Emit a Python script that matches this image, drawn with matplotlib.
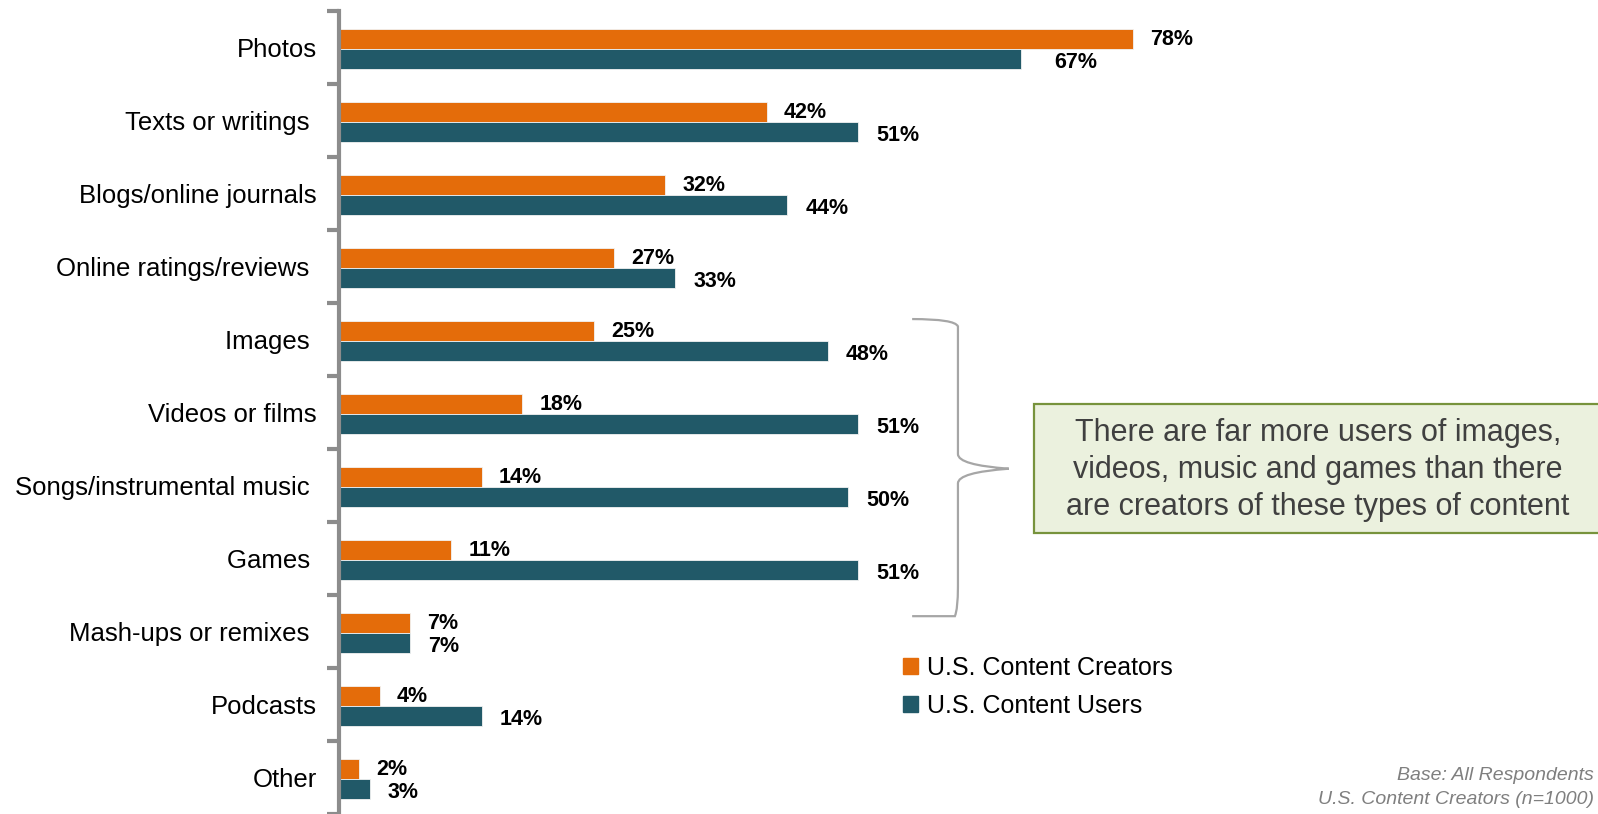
import matplotlib
matplotlib.use("Agg")
import matplotlib.pyplot as plt
from matplotlib.patches import Patch, FancyBboxPatch
from matplotlib.path import Path
from matplotlib.patches import PathPatch

categories = ["Photos", "Texts or writings ", "Blogs/online journals", "Online ratings/reviews ",
              "Images ", "Videos or films", "Songs/instrumental music ", "Games ",
              "Mash-ups or remixes ", "Podcasts", "Other"]
creators = [78, 42, 32, 27, 25, 18, 14, 11, 7, 4, 2]
users = [67, 51, 44, 33, 48, 51, 50, 51, 7, 14, 3]
series_names = ["U.S. Content Creators", "U.S. Content Users"]
callout = "There are far more users of images,\nvideos, music and games than there\nare creators of these types of content"
footnote1 = "Base: All Respondents"
footnote2 = "U.S. Content Creators (n=1000)"

ORANGE = "#E46C0A"
TEAL = "#215968"
W, H = 1598, 814

fig = plt.figure(figsize=(W / 100, H / 100), dpi=100)
ax = fig.add_axes([339 / W, 0, 1018 / W, 803 / H])

n = len(categories)
ypos = list(range(n))
bh = 0.28
ax.barh([y - bh / 2 + 0.02 for y in ypos], creators, height=bh, color=ORANGE,
        edgecolor="#f2f2f2", linewidth=0.6)
ax.barh([y + bh / 2 + 0.02 for y in ypos], users, height=bh, color=TEAL,
        edgecolor="#f2f2f2", linewidth=0.6)

ax.set_xlim(0, 100)
ax.set_ylim(n - 0.5, -0.5)

lab_font = dict(family=["Liberation Sans", "DejaVu Sans"], fontweight="bold",
                fontsize=15.5, color="black", va="center", ha="left")
for y, c, u in zip(ypos, creators, users):
    ax.text(c + 1.7, y - bh / 2 + 0.03, f"{c}%", **lab_font)
    extra = 1.5 if u == 67 else 0
    ax.text(u + 1.8 + extra, y + bh / 2 + 0.06, f"{u}%", **lab_font)

# axes styling
for s in ["top", "right", "bottom"]:
    ax.spines[s].set_visible(False)
ax.spines["left"].set_color("#8c8c8c")
ax.spines["left"].set_linewidth(3)
ax.set_xticks([])
ax.set_yticks([y - 0.5 for y in range(n + 1)])
ax.set_yticklabels([])
ax.set_yticks(ypos, minor=True)
ax.set_yticklabels(categories, minor=True, fontsize=18.5, family="Liberation Sans")
ax.tick_params(axis="y", which="major", length=9, width=3, color="#8c8c8c", direction="out")
ax.tick_params(axis="y", which="minor", length=0, pad=16)

# legend
handles = [Patch(color=ORANGE), Patch(color=TEAL)]
fig.legend(handles, series_names, loc="upper left", bbox_to_anchor=(903 / W, 1 - 656 / H),
           frameon=False, prop={"family": "Liberation Sans", "size": 18},
           handlelength=0.6, handleheight=0.6, handletextpad=0.35, labelspacing=0.55,
           borderaxespad=0, borderpad=0)

# brace (in data coordinates)
top, bot, mid = 3.72, 7.79, 5.77
x0, x1, xt = 56.3, 60.8, 65.8
verts = [(x0, top), (x1 - 0.3, top), (x1, top + 0.1), (x1, top + 0.4),
         (x1, mid - 0.2), (x1, mid - 0.05), (xt, mid), (x1, mid + 0.05),
         (x1, mid + 0.2), (x1, bot - 0.4), (x1, bot - 0.1), (x1 - 0.3, bot), (x0, bot)]
codes = [Path.MOVETO, Path.CURVE3, Path.CURVE3, Path.LINETO,
         Path.LINETO, Path.CURVE3, Path.CURVE3, Path.CURVE3,
         Path.CURVE3, Path.LINETO, Path.CURVE3, Path.CURVE3, Path.LINETO]
ax.add_patch(PathPatch(Path(verts, codes), fill=False, edgecolor="#a6a6a6", lw=1.6,
                       clip_on=False))

# callout box
fig.patches.append(FancyBboxPatch((1034 / W, 1 - 533 / H), 580 / W, 129 / H,
                                  boxstyle="square,pad=0", transform=fig.transFigure,
                                  facecolor="#EBF1DE", edgecolor="#77933C", linewidth=1.6))
fig.text(1318 / W, 1 - 470 / H, callout, ha="center", va="center", fontsize=22,
         family="Liberation Sans", color="#404040", linespacing=1.3)

fig.text(1594 / W, 1 - 776 / H, footnote1, ha="right", va="center", fontsize=14,
         style="italic", color="#7f7f7f", family="Liberation Sans")
fig.text(1594 / W, 1 - 800 / H, footnote2, ha="right", va="center", fontsize=14,
         style="italic", color="#7f7f7f", family="Liberation Sans")

fig.savefig("out.png", dpi=100)
